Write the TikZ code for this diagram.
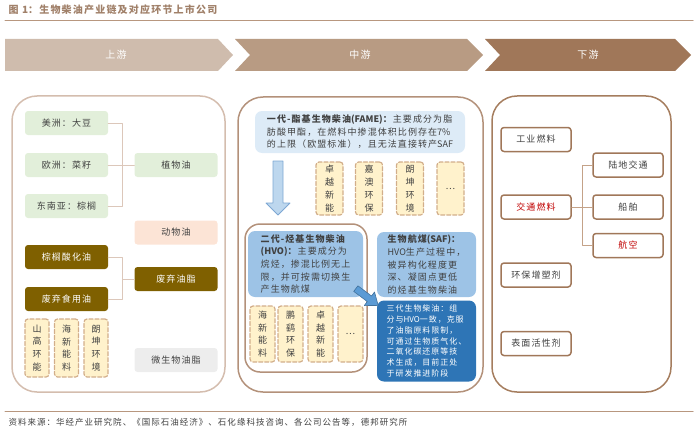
\documentclass[tikz,border=0pt]{standalone}
\usepackage{fontspec}
\setmainfont{Noto Sans CJK SC}[LetterSpace=12]
\newfontfamily\latinpart{Noto Sans CJK SC}
\usetikzlibrary{positioning}
\definecolor{chevup}{HTML}{CFBCAD}
\definecolor{chevmid}{HTML}{B89B83}
\definecolor{chevdown}{HTML}{A07759}
\definecolor{titlebrown}{HTML}{A08069}
\definecolor{ruleline}{HTML}{B8977F}
\definecolor{panelup}{HTML}{D4BDAE}
\definecolor{panelmid}{HTML}{B3917A}
\definecolor{paneldown}{HTML}{A57D5E}
\definecolor{leafgreen}{HTML}{E2EFDA}
\definecolor{animalpink}{HTML}{FCE4D6}
\definecolor{wasteolive}{HTML}{7F6000}
\definecolor{microgrey}{HTML}{EDEDED}
\definecolor{firmfill}{HTML}{FFF2CC}
\definecolor{firmline}{HTML}{D2AE8A}
\definecolor{fameblue}{HTML}{DDEBF7}
\definecolor{hvoblue}{HTML}{9DC3E6}
\definecolor{genblue}{HTML}{2E75B6}
\definecolor{arrowfill}{HTML}{BDD7EE}
\definecolor{arrowline}{HTML}{7DA7D3}
\definecolor{diagfill}{HTML}{5B9BD5}
\definecolor{diagline}{HTML}{41719C}
\definecolor{txtgray}{HTML}{404040}
\definecolor{hotred}{HTML}{C00000}
\definecolor{linkup}{HTML}{DCC7BA}
\definecolor{linkdown}{HTML}{C4A288}
\tikzset{
  srcbox/.style={rectangle,rounded corners=3pt,inner sep=0pt,minimum width=83pt,minimum height=24pt,font=\fontsize{9}{11}\selectfont,text=txtgray},
  firmbox/.style={rectangle,rounded corners=3pt,draw=firmline,line width=1.2pt,dash pattern=on 4pt off 2pt,fill=firmfill,inner sep=0pt,minimum width=24pt,minimum height=58pt,align=center,font=\fontsize{9}{12.8}\selectfont,text=txtgray},
  usebox/.style={rectangle,rounded corners=3pt,draw=chevdown,line width=1.5pt,fill=white,inner sep=0pt,minimum width=70pt,minimum height=24pt,font=\fontsize{9}{11}\selectfont,text=txtgray},
  bluebox/.style={rectangle,rounded corners=7pt,inner sep=0pt,align=left,font=\fontsize{9}{12.6}\selectfont,text=txtgray},
  panel/.style={rounded corners=25pt,line width=1.5pt},
  stagetext/.style={font=\fontsize{10}{12}\selectfont,text=white},
  link/.style={line width=0.9pt},
  every picture/.style={line cap=round,line join=round}
}
\begin{document}
\begin{tikzpicture}[x=1pt,y=-1pt]
  \useasboundingbox (0,0) rectangle (700,433);
  \node[anchor=west,font=\fontsize{10}{12}\selectfont\bfseries,text=titlebrown] (title) at (5,10) {图 {\latinpart 1}：生物柴油产业链及对应环节上市公司};
  \draw[ruleline,line width=1pt] (5,21) -- (693,21);

  \fill[chevup] (5,39) -- (218,39) -- (233,55) -- (218,71) -- (5,71) -- cycle;
  \fill[chevmid] (235,39) -- (467,39) -- (483,55) -- (467,71) -- (235,71) -- (250,55) -- cycle;
  \fill[chevdown] (485,39) -- (675,39) -- (691,55) -- (675,71) -- (485,71) -- (500,55) -- cycle;
  \node[stagetext] (up) at (116,55) {上游};
  \node[stagetext] (mid) at (360,55) {中游};
  \node[stagetext] (down) at (588,55) {下游};

  \draw[panel,draw=panelup] (12,96) rectangle (225,392);
  \draw[panel,draw=panelmid] (238,97) rectangle (483,392);
  \draw[panel,draw=paneldown] (492,96) rectangle (671,392);

  % upstream
  \node[srcbox,fill=leafgreen] (mz) at (66.5,123) {美洲：大豆};
  \node[srcbox,fill=leafgreen] (oz) at (66.5,165) {欧洲：菜籽};
  \node[srcbox,fill=leafgreen] (dny) at (66.5,206) {东南亚：棕榈};
  \node[srcbox,fill=leafgreen] (zwy) at (176,165) {植物油};
  \node[srcbox,fill=animalpink] (dwy) at (176,232.5) {动物油};
  \node[srcbox,fill=wasteolive,text=white] (zlshy) at (66.5,257) {棕榈酸化油};
  \node[srcbox,fill=wasteolive,text=white] (fqyz) at (176,279) {废弃油脂};
  \node[srcbox,fill=wasteolive,text=white] (fqsyy) at (66.5,299) {废弃食用油};
  \node[srcbox,fill=microgrey] (wswyz) at (176,360) {微生物油脂};
  \node[firmbox] (sght) at (37,348) {山\\高\\环\\能};
  \node[firmbox] (hxnl) at (66.5,348) {海\\新\\能\\料};
  \node[firmbox] (lkhj) at (96,348) {朗\\坤\\环\\境};
  \coordinate (jplant) at (122,165);
  \coordinate (jwaste) at (122,279);
  \draw[link,linkup] (mz.east) -| (jplant);
  \draw[link,linkup] (dny.east) -| (jplant);
  \draw[link,linkup] (oz.east) -- (zwy.west);
  \draw[link,linkup] (zlshy.east) -| (jwaste);
  \draw[link,linkup] (fqsyy.east) -| (jwaste) -- (fqyz.west);

  % midstream
  \node[bluebox,fill=fameblue,minimum width=210pt,minimum height=42pt] (fame) at (360,132)
    {\textbf{一代-酯基生物柴油{\latinpart (FAME)}：}主要成分为脂\\肪酸甲酯，在燃料中掺混体积比例存在{\latinpart 7\%}\\的上限（欧盟标准），且无法直接转产{\latinpart SAF}};
  \draw[arrowline,fill=arrowfill,line width=0.8pt] (273,161) -- (283,161) -- (283,203) -- (290,203) -- (278,215) -- (266,203) -- (273,203) -- cycle;
  \node[firmbox,minimum width=27pt,minimum height=53pt] (zyxn1) at (329.5,188.5) {卓\\越\\新\\能};
  \node[firmbox,minimum width=27pt,minimum height=53pt] (jahb) at (369,188.5) {嘉\\澳\\环\\保};
  \node[firmbox,minimum width=27pt,minimum height=53pt] (lkhj2) at (410,188.5) {朗\\坤\\环\\境};
  \node[firmbox,minimum width=27pt,minimum height=53pt] (more1) at (450.5,188.5) {…};
  \draw[panelmid,line width=1.5pt,rounded corners=15pt] (245,224) rectangle (367,372);
  \node[bluebox,fill=hvoblue,minimum width=115pt,minimum height=66pt] (hvo) at (305.5,264)
    {\textbf{二代-烃基生物柴油}\\\textbf{{\latinpart (HVO)}：}主要成分为\\烷烃，掺混比例无上\\限，并可按需切换生\\产生物航煤};
  \node[firmbox,minimum width=25pt,minimum height=56pt] (hxnl2) at (262.5,334) {海\\新\\能\\料};
  \node[firmbox,minimum width=25pt,minimum height=56pt] (pyhb) at (290.5,334) {鹏\\鹞\\环\\保};
  \node[firmbox,minimum width=25pt,minimum height=56pt] (zyxn2) at (320.5,334) {卓\\越\\新\\能};
  \node[firmbox,minimum width=25pt,minimum height=56pt] (more2) at (350.5,334) {…};
  \node[bluebox,fill=hvoblue,minimum width=99pt,minimum height=65pt] (saf) at (426.5,264.5)
    {\textbf{生物航煤{\latinpart (SAF)}：}\\{\latinpart HVO}生产过程中，\\被异构化程度更\\深、凝固点更低\\的烃基生物柴油};
  \node[bluebox,fill=genblue,text=white,minimum width=99pt,minimum height=81pt,font=\fontsize{8}{10.9}\selectfont] (gen3) at (426.5,341)
    {三代生物柴油：组\\分与{\latinpart HVO}一致，克服\\了油脂原料限制，\\可通过生物质气化、\\二氧化碳还原等技\\术生成，目前正处\\于研发推进阶段};
  \begin{scope}[shift={(367,297)},rotate=-37]
    \draw[diagline,fill=diagfill,line width=0.6pt] (-14,-3.5) -- (3,-3.5) -- (3,-8.5) -- (14,0) -- (3,8.5) -- (3,3.5) -- (-14,3.5) -- cycle;
  \end{scope}

  % downstream
  \node[usebox] (gyrl) at (536,139.5) {工业燃料};
  \node[usebox,text=hotred] (jtrl) at (536,207) {交通燃料};
  \node[usebox] (hbzsj) at (536,275) {环保增塑剂};
  \node[usebox] (bmhxj) at (536,343.5) {表面活性剂};
  \node[usebox] (ldjt) at (628,165) {陆地交通};
  \node[usebox] (cb) at (628,207) {船舶};
  \node[usebox,text=hotred] (hk) at (628,245.5) {航空};
  \coordinate (jtrans) at (582,207);
  \draw[link,linkdown] (jtrl.east) -- (jtrans) |- (ldjt.west);
  \draw[link,linkdown] (jtrans) -- (cb.west);
  \draw[link,linkdown] (jtrans) |- (hk.west);

  \draw[ruleline,line width=1pt] (5,411) -- (693,411);
  \node[anchor=west,font=\fontsize{8.5}{10}\selectfont,text=txtgray] (source) at (5,422)
    {资料来源：华经产业研究院、《国际石油经济》、石化缘科技咨询、各公司公告等，德邦研究所};
\end{tikzpicture}
\end{document}
